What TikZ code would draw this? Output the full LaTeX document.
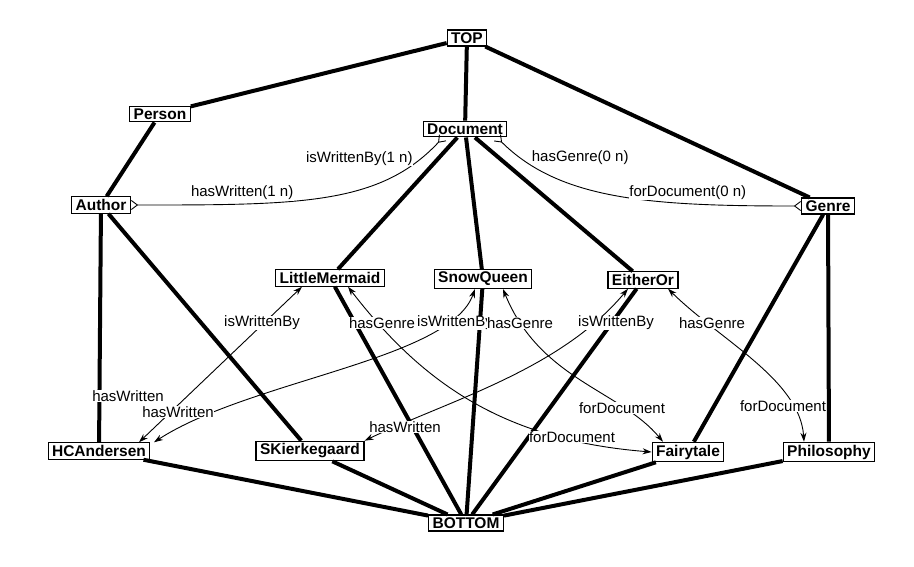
\documentclass[tikz,border=0pt]{standalone}
\usepackage{fontspec}
\setmainfont{Liberation Sans}
\usetikzlibrary{arrows.meta,calc}
\begin{document}
\begin{tikzpicture}[x=1pt,y=-1pt,
  box/.style={draw,line width=1.1pt,fill=white,inner xsep=4pt,inner ysep=2.5pt,font=\fontsize{15.5}{16}\selectfont\bfseries},
  hier/.style={line width=4pt},
  rel/.style={line width=0.9pt},
  lab/.style={fill=white,inner sep=0.5pt,font=\fontsize{15}{16}\selectfont},
  crow/.style={{Straight Barb[reversed,length=6pt,width=9pt]}-{Straight Barb[reversed,length=6pt,width=9pt]}},
  inst/.style={rel,{Stealth[length=9pt,width=6pt]}-{Stealth[length=9pt,width=6pt]}}]
\useasboundingbox (0,0) rectangle (914,566);
\node[box] (top) at (467,38) {TOP};
\node[box] (person) at (160,114) {Person};
\node[box] (doc) at (465,129) {Document};
\node[box] (author) at (101,205) {Author};
\node[box] (genre) at (828,206) {Genre};
\node[box] (lm) at (330,278) {LittleMermaid};
\node[box] (sq) at (483,279) {SnowQueen};
\node[box] (eo) at (643,280) {EitherOr};
\node[box] (hca) at (99,451) {HCAndersen};
\node[box] (sk) at (310,451) {SKierkegaard};
\node[box] (ft) at (688,452) {Fairytale};
\node[box] (ph) at (829,452) {Philosophy};
\node[box] (bot) at (466,523) {BOTTOM};
\begin{scope}[every path/.append style={}]
\foreach \a/\b in {top/person,top/doc,top/genre,person/author,author/hca,author/sk,doc/lm,doc/sq,doc/eo,genre/ft,genre/ph,lm/bot,sq/bot,eo/bot,hca/bot,sk/bot,ft/bot,ph/bot}
  \draw[hier] (\a) -- (\b);
\end{scope}
% schema relations
\draw[rel,crow] (author.east) .. controls (300,205) and (380,205) .. ($(doc.south)+(-22,0)$)
  node[lab,pos=0.25,above=3pt] {hasWritten(1 n)} node[lab,pos=0.88,left=6pt] {isWrittenBy(1 n)};
\draw[rel,crow] ($(doc.south)+(32,0)$) .. controls (560,200) and (650,206) .. (genre.west)
  node[lab,pos=0.12,right=10pt] {hasGenre(0 n)} node[lab,pos=0.72,above=3pt] {forDocument(0 n)};
% instance relations
\draw[inst] ($(lm.south)+(-28,0)$) -- ($(hca.north)+(40,0)$);
\node[lab] at (262,323) {isWrittenBy};
\node[lab] at (128,396) {hasWritten};
\draw[inst] ($(sq.south)+(-8,0)$) .. controls (450,360) and (250,380) .. ($(hca.north)+(55,0)$);
\node[lab] at (455,323) {isWrittenBy};
\node[lab] at (178,412) {hasWritten};
\draw[inst] ($(eo.south)+(-15,0)$) .. controls (560,370) and (450,400) .. (sk.north east);
\node[lab] at (616,323) {isWrittenBy};
\node[lab] at (405,427) {hasWritten};
\draw[inst] ($(lm.south)+(18,0)$) .. controls (420,380) and (500,440) .. (ft.west);
\node[lab] at (382,323) {hasGenre};
\node[lab] at (572,437) {forDocument};
\draw[inst] ($(sq.south)+(20,0)$) .. controls (540,380) and (620,390) .. ($(ft.north)+(-25,0)$);
\node[lab] at (520,323) {hasGenre};
\node[lab] at (622,408) {forDocument};
\draw[inst] ($(eo.south)+(25,0)$) .. controls (720,340) and (800,380) .. ($(ph.north)+(-25,0)$);
\node[lab] at (712,323) {hasGenre};
\node[lab] at (783,406) {forDocument};
\end{tikzpicture}
\end{document}
